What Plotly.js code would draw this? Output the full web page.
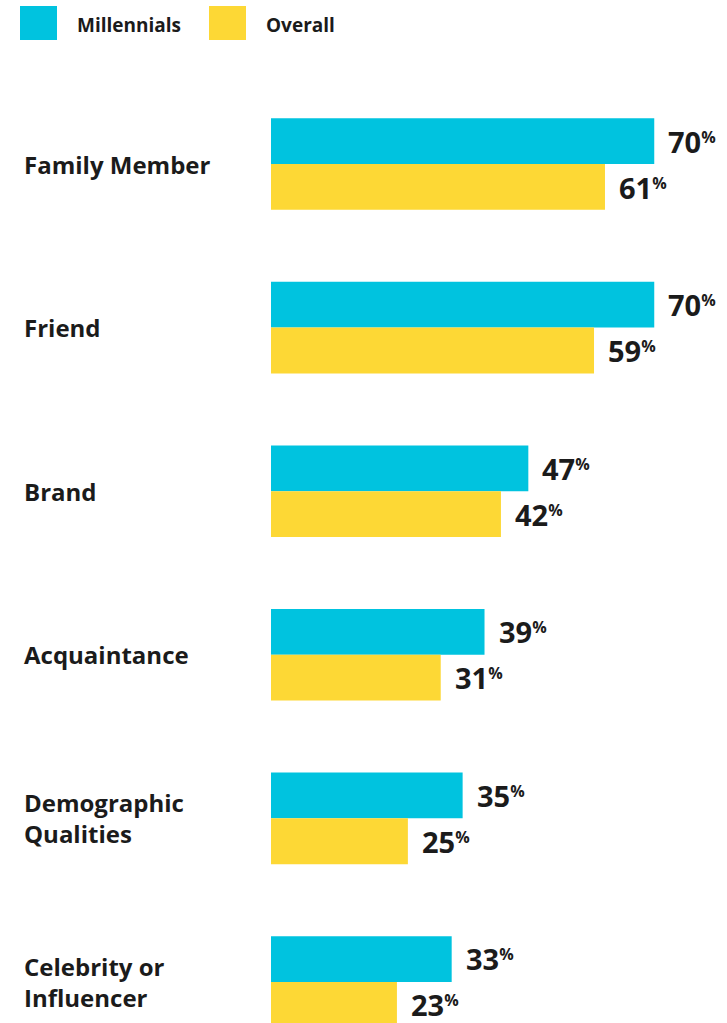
<!DOCTYPE html>
<html>
<head>
<meta charset="utf-8">
<script src="https://cdn.plot.ly/plotly-3.0.1.min.js"></script>
<style>html,body{margin:0;padding:0;background:#fff;}#chart{width:727px;height:1023px;}</style>
</head>
<body>
<div id="chart"></div>
<script>
const categories = ["Family Member", "Friend", "Brand", "Acquaintance", "Demographic Qualities", "Celebrity or Influencer"];
const categoryLabels = ["Family Member", "Friend", "Brand", "Acquaintance", "Demographic<br>Qualities", "Celebrity or<br>Influencer"];
const millennials = [70, 70, 47, 39, 35, 33];
const overall = [61, 59, 42, 31, 25, 23];
const seriesNames = ["Millennials", "Overall"];
const colors = ["#00C3DF", "#FDD835"];

const W = 727, H = 1023;
const mL = 271, mR = 18, mT = 60, mB = 0;
const plotW = W - mL - mR, plotH = H - mT - mB;
const FONT = "Open Sans, Lato, sans-serif";
const TXT = "#1b1b1b";

const traces = [
  {type: "bar", orientation: "h", name: seriesNames[0], y: categories, x: millennials,
   marker: {color: colors[0]}, hoverinfo: "x+y"},
  {type: "bar", orientation: "h", name: seriesNames[1], y: categories, x: overall,
   marker: {color: colors[1]}, hoverinfo: "x+y"}
];

const annotations = [];
const shapes = [];
// category labels
categories.forEach((c, i) => {
  annotations.push({xref: "paper", yref: "y", x: (22 - mL) / plotW, y: c, xanchor: "left", yanchor: "middle",
    text: "<b>" + categoryLabels[i] + "</b>", showarrow: false, align: "left",
    font: {family: FONT, size: 24, color: TXT}});
});
// value labels
const off = 0.1406;
[millennials, overall].forEach((arr, s) => {
  arr.forEach((v, i) => {
    annotations.push({xref: "x", yref: "y", x: v, y: i + (s === 0 ? -off : off), xanchor: "left", yanchor: "middle",
      xshift: 12, text: "<b>" + v + "<span style='font-size:23px'><sup>%</sup></span></b>", showarrow: false,
      font: {family: FONT, size: 29, color: TXT}});
  });
});
// legend
const legX = [20, 209];
seriesNames.forEach((n, s) => {
  const x0 = legX[s], y0 = 6, x1 = x0 + 37, y1 = 40;
  shapes.push({type: "rect", xref: "paper", yref: "paper",
    x0: (x0 - mL) / plotW, x1: (x1 - mL) / plotW,
    y0: 1 - (y1 - mT) / plotH, y1: 1 - (y0 - mT) / plotH,
    fillcolor: colors[s], line: {width: 0}});
  annotations.push({xref: "paper", yref: "paper", x: (x1 + 18 - mL) / plotW, y: 1 - (25 - mT) / plotH,
    xanchor: "left", yanchor: "middle", text: "<b>" + n + "</b>", showarrow: false,
    font: {family: FONT, size: 19, color: TXT}});
});

const layout = {
  width: W, height: H,
  margin: {l: mL, r: mR, t: mT, b: mB, pad: 0},
  paper_bgcolor: "#fff", plot_bgcolor: "#fff",
  barmode: "group", bargap: 0.44, bargroupgap: 0,
  showlegend: false,
  xaxis: {range: [0, 80], showgrid: false, zeroline: false, showticklabels: false, showline: false, ticks: ""},
  yaxis: {type: "category", categoryorder: "array", categoryarray: categories,
    range: [5.251, -0.636], showgrid: false, zeroline: false, showticklabels: false, showline: false, ticks: ""},
  annotations: annotations,
  shapes: shapes
};

Plotly.newPlot("chart", traces, layout, {displayModeBar: false, staticPlot: true});
</script>
</body>
</html>
